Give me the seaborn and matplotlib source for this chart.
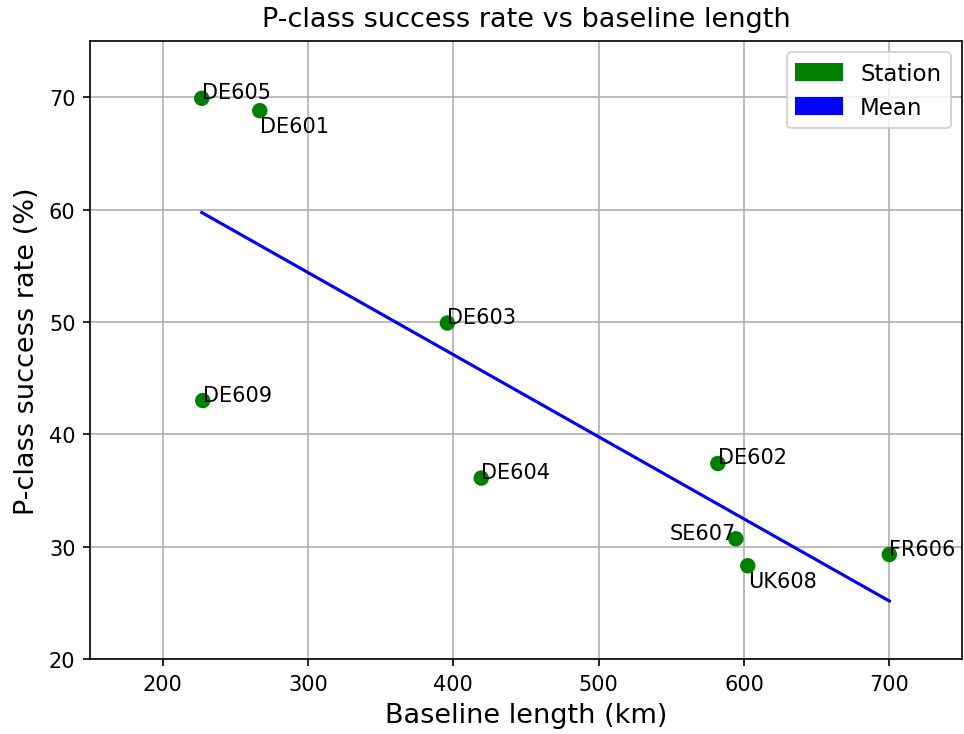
import numpy as np
import pandas as pd
import matplotlib
matplotlib.use("Agg")
import matplotlib.pyplot as plt
import matplotlib.patches as mpatches
import seaborn as sns

stations = ["DE605", "DE601", "DE603", "DE609", "DE604", "DE602", "SE607", "UK608", "FR606"]
baseline_km = [226.9, 266.8, 395.9, 227.6, 419.2, 582.0, 594.4, 602.6, 700.0]
success_pct = [69.9, 68.8, 49.9, 43.0, 36.1, 37.4, 30.7, 28.3, 29.3]
label_ha = ["left", "left", "left", "left", "left", "left", "right", "left", "left"]
label_va = ["baseline", "top", "baseline", "baseline", "baseline", "baseline", "baseline", "top", "baseline"]

df = pd.DataFrame({"x": baseline_km, "y": success_pct, "name": stations})

fig = plt.figure(figsize=(9.64 / 1.5, 7.35 / 1.5), dpi=150)
ax = fig.add_axes([90 / 964, 1 - 660 / 735, (962 - 90) / 964, (660 - 42) / 735])

# regression ("Mean") line
coef = np.polyfit(df["x"], df["y"], 1)
xs = np.array([df["x"].min(), df["x"].max()])
line_df = pd.DataFrame({"x": xs, "y": np.polyval(coef, xs)})
sns.lineplot(data=line_df, x="x", y="y", color="blue", linewidth=1.5, ax=ax, zorder=2)

sns.scatterplot(data=df, x="x", y="y", color="green", s=55, edgecolor="none", ax=ax, zorder=3)

for xi, yi, nm, ha, va in zip(baseline_km, success_pct, stations, label_ha, label_va):
    dy = -2.5 if va == "top" else 0
    ax.annotate(nm, (xi, yi), xytext=(0, dy), textcoords="offset points",
                ha=ha, va=va, fontsize=10, zorder=4)

ax.set_xlim(150, 750)
ax.set_ylim(20, 75)
ax.set_xticks([200, 300, 400, 500, 600, 700])
ax.set_yticks([20, 30, 40, 50, 60, 70])
ax.grid(True, zorder=0)
ax.set_axisbelow(True)
ax.set_title("P-class success rate vs baseline length", fontsize=13, pad=7)
ax.set_xlabel("Baseline length (km)", fontsize=13)
ax.set_ylabel("P-class success rate (%)", fontsize=13)

handles = [mpatches.Patch(color="green", label="Station"),
           mpatches.Patch(color="blue", label="Mean")]
ax.legend(handles=handles, loc="upper right", fontsize=11)

fig.savefig("out.png", dpi=150)
